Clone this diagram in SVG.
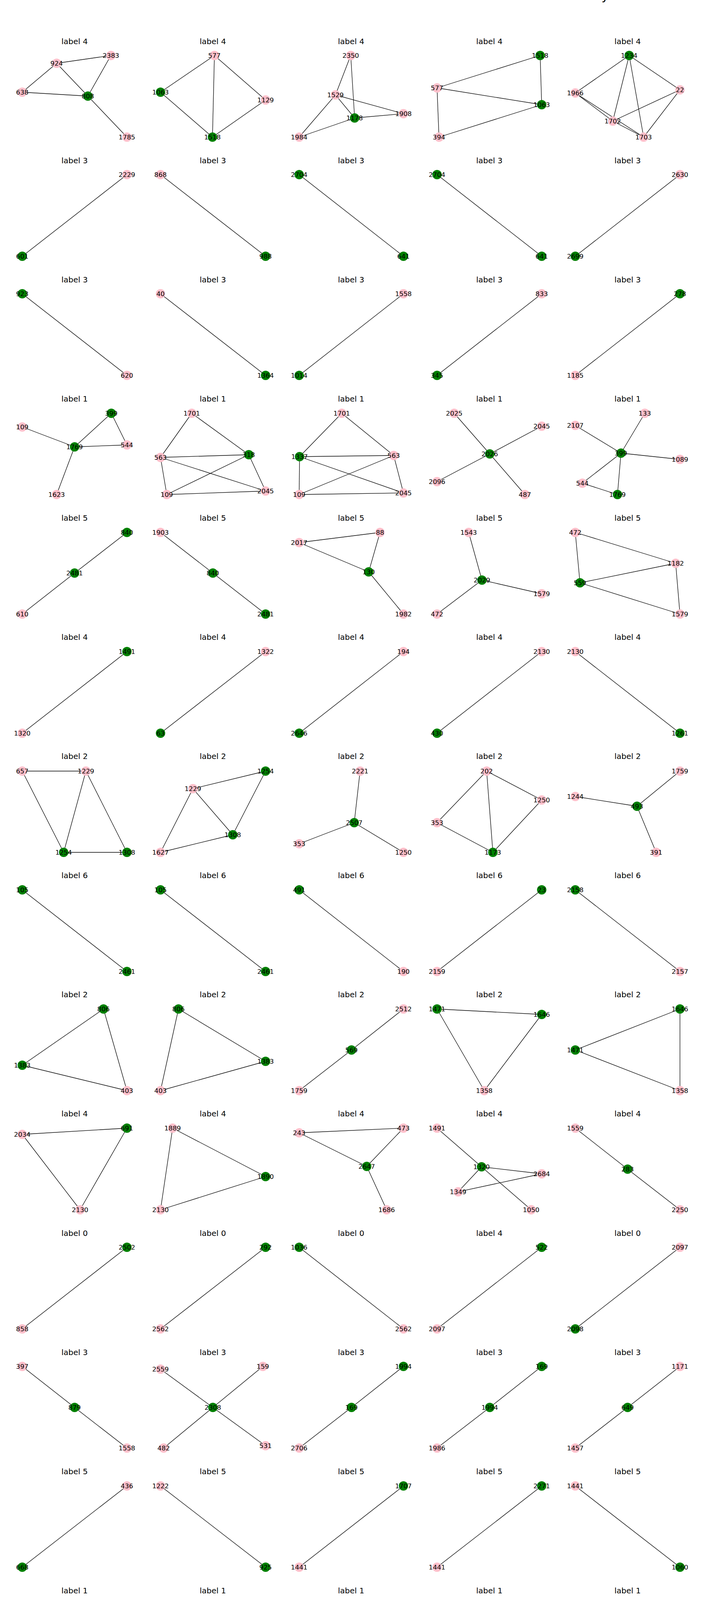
<svg xmlns="http://www.w3.org/2000/svg" width="1800" height="6200" viewBox="0 0 1800 6200">
<style>
text{font-family:"DejaVu Sans","Liberation Sans",sans-serif;fill:#000}
.n text{font-size:16.7px;text-anchor:middle;dominant-baseline:central}
.ttl{font-size:20px;text-anchor:middle}
.sup{font-size:32px}
.p{fill:#ffc0cb}
.g{fill:#008000}
#connectors line{stroke:#000;stroke-width:1.3}
</style>
<rect width="1800" height="6200" fill="#fff"/>
<text class="sup" x="1540" y="-1">y</text>
<g id="titles">
<text class="ttl" x="191" y="112.5">label 4</text><text class="ttl" x="545" y="112.5">label 4</text><text class="ttl" x="899" y="112.5">label 4</text><text class="ttl" x="1253" y="112.5">label 4</text><text class="ttl" x="1607" y="112.5">label 4</text>
<text class="ttl" x="191" y="417.6">label 3</text><text class="ttl" x="545" y="417.6">label 3</text><text class="ttl" x="899" y="417.6">label 3</text><text class="ttl" x="1253" y="417.6">label 3</text><text class="ttl" x="1607" y="417.6">label 3</text>
<text class="ttl" x="191" y="722.7">label 3</text><text class="ttl" x="545" y="722.7">label 3</text><text class="ttl" x="899" y="722.7">label 3</text><text class="ttl" x="1253" y="722.7">label 3</text><text class="ttl" x="1607" y="722.7">label 3</text>
<text class="ttl" x="191" y="1027.8">label 1</text><text class="ttl" x="545" y="1027.8">label 1</text><text class="ttl" x="899" y="1027.8">label 1</text><text class="ttl" x="1253" y="1027.8">label 1</text><text class="ttl" x="1607" y="1027.8">label 1</text>
<text class="ttl" x="191" y="1332.9">label 5</text><text class="ttl" x="545" y="1332.9">label 5</text><text class="ttl" x="899" y="1332.9">label 5</text><text class="ttl" x="1253" y="1332.9">label 5</text><text class="ttl" x="1607" y="1332.9">label 5</text>
<text class="ttl" x="191" y="1638">label 4</text><text class="ttl" x="545" y="1638">label 4</text><text class="ttl" x="899" y="1638">label 4</text><text class="ttl" x="1253" y="1638">label 4</text><text class="ttl" x="1607" y="1638">label 4</text>
<text class="ttl" x="191" y="1943.1">label 2</text><text class="ttl" x="545" y="1943.1">label 2</text><text class="ttl" x="899" y="1943.1">label 2</text><text class="ttl" x="1253" y="1943.1">label 2</text><text class="ttl" x="1607" y="1943.1">label 2</text>
<text class="ttl" x="191" y="2248.2">label 6</text><text class="ttl" x="545" y="2248.2">label 6</text><text class="ttl" x="899" y="2248.2">label 6</text><text class="ttl" x="1253" y="2248.2">label 6</text><text class="ttl" x="1607" y="2248.2">label 6</text>
<text class="ttl" x="191" y="2553.3">label 2</text><text class="ttl" x="545" y="2553.3">label 2</text><text class="ttl" x="899" y="2553.3">label 2</text><text class="ttl" x="1253" y="2553.3">label 2</text><text class="ttl" x="1607" y="2553.3">label 2</text>
<text class="ttl" x="191" y="2858.4">label 4</text><text class="ttl" x="545" y="2858.4">label 4</text><text class="ttl" x="899" y="2858.4">label 4</text><text class="ttl" x="1253" y="2858.4">label 4</text><text class="ttl" x="1607" y="2858.4">label 4</text>
<text class="ttl" x="191" y="3163.5">label 0</text><text class="ttl" x="545" y="3163.5">label 0</text><text class="ttl" x="899" y="3163.5">label 0</text><text class="ttl" x="1253" y="3163.5">label 4</text><text class="ttl" x="1607" y="3163.5">label 0</text>
<text class="ttl" x="191" y="3468.6">label 3</text><text class="ttl" x="545" y="3468.6">label 3</text><text class="ttl" x="899" y="3468.6">label 3</text><text class="ttl" x="1253" y="3468.6">label 3</text><text class="ttl" x="1607" y="3468.6">label 3</text>
<text class="ttl" x="191" y="3773.7">label 5</text><text class="ttl" x="545" y="3773.7">label 5</text><text class="ttl" x="899" y="3773.7">label 5</text><text class="ttl" x="1253" y="3773.7">label 5</text><text class="ttl" x="1607" y="3773.7">label 5</text>
<text class="ttl" x="191" y="4078.8">label 1</text><text class="ttl" x="545" y="4078.8">label 1</text><text class="ttl" x="899" y="4078.8">label 1</text><text class="ttl" x="1253" y="4078.8">label 1</text><text class="ttl" x="1607" y="4078.8">label 1</text>
<text class="ttl" x="191" y="4383.9">label 4</text><text class="ttl" x="545" y="4383.9">label 4</text><text class="ttl" x="899" y="4383.9">label 4</text><text class="ttl" x="1253" y="4383.9">label 4</text><text class="ttl" x="1607" y="4383.9">label 4</text>
<text class="ttl" x="191" y="4689">label 0</text><text class="ttl" x="545" y="4689">label 0</text><text class="ttl" x="899" y="4689">label 0</text><text class="ttl" x="1253" y="4689">label 0</text><text class="ttl" x="1607" y="4689">label 0</text>
<text class="ttl" x="191" y="4994.1">label 3</text><text class="ttl" x="545" y="4994.1">label 3</text><text class="ttl" x="899" y="4994.1">label 3</text><text class="ttl" x="1253" y="4994.1">label 3</text><text class="ttl" x="1607" y="4994.1">label 3</text>
<text class="ttl" x="191" y="5299.2">label 6</text><text class="ttl" x="545" y="5299.2">label 6</text><text class="ttl" x="899" y="5299.2">label 6</text><text class="ttl" x="1253" y="5299.2">label 6</text><text class="ttl" x="1607" y="5299.2">label 6</text>
<text class="ttl" x="191" y="5604.3">label 2</text><text class="ttl" x="545" y="5604.3">label 2</text><text class="ttl" x="899" y="5604.3">label 2</text><text class="ttl" x="1253" y="5604.3">label 2</text><text class="ttl" x="1607" y="5604.3">label 2</text>
<text class="ttl" x="191" y="5909.4">label 3</text><text class="ttl" x="545" y="5909.4">label 3</text><text class="ttl" x="899" y="5909.4">label 3</text><text class="ttl" x="1253" y="5909.4">label 3</text><text class="ttl" x="1607" y="5909.4">label 3</text>
</g>
<g id="connectors">
<line x1="145" y1="162" x2="284" y2="142"/><line x1="145" y1="162" x2="57" y2="236"/><line x1="145" y1="162" x2="225" y2="246"/><line x1="284" y1="142" x2="225" y2="246"/><line x1="57" y1="236" x2="225" y2="246"/><line x1="225" y1="246" x2="325" y2="351"/>
<line x1="549" y1="142" x2="411" y2="236"/><line x1="549" y1="142" x2="544" y2="351"/><line x1="549" y1="142" x2="680" y2="256"/><line x1="411" y1="236" x2="544" y2="351"/><line x1="680" y1="256" x2="544" y2="351"/>
<line x1="898" y1="142" x2="859" y2="243"/><line x1="898" y1="142" x2="908" y2="302"/><line x1="859" y1="243" x2="1033" y2="291"/><line x1="859" y1="243" x2="908" y2="302"/><line x1="859" y1="243" x2="766" y2="351"/><line x1="908" y1="302" x2="1033" y2="291"/><line x1="908" y1="302" x2="766" y2="351"/>
<line x1="1119" y1="225" x2="1383" y2="142"/><line x1="1383" y1="142" x2="1387" y2="268"/><line x1="1119" y1="225" x2="1387" y2="268"/><line x1="1119" y1="225" x2="1124" y2="351"/><line x1="1124" y1="351" x2="1387" y2="268"/>
<line x1="1611" y1="142" x2="1473" y2="238"/><line x1="1611" y1="142" x2="1741" y2="230"/><line x1="1611" y1="142" x2="1569" y2="310"/><line x1="1611" y1="142" x2="1648" y2="351"/><line x1="1741" y1="230" x2="1569" y2="310"/><line x1="1741" y1="230" x2="1648" y2="351"/><line x1="1473" y1="238" x2="1569" y2="310"/><line x1="1473" y1="238" x2="1648" y2="351"/><line x1="1569" y1="310" x2="1648" y2="351"/>
<line x1="325" y1="447" x2="57" y2="656"/><line x1="411" y1="447" x2="680" y2="656"/><line x1="766" y1="447" x2="1033" y2="656"/><line x1="1119" y1="447" x2="1387" y2="656"/><line x1="1741" y1="447" x2="1473" y2="656"/>
<line x1="57" y1="752" x2="325" y2="961"/><line x1="411" y1="752" x2="680" y2="961"/><line x1="1033" y1="752" x2="766" y2="961"/><line x1="1387" y1="752" x2="1119" y2="961"/><line x1="1741" y1="752" x2="1473" y2="961"/>
<line x1="285" y1="1058" x2="191" y2="1144"/><line x1="285" y1="1058" x2="325" y2="1139"/><line x1="57" y1="1093" x2="191" y2="1144"/><line x1="191" y1="1144" x2="325" y2="1139"/><line x1="191" y1="1144" x2="145" y2="1266"/>
<line x1="491" y1="1058" x2="411" y2="1171"/><line x1="491" y1="1058" x2="637" y2="1164"/><line x1="411" y1="1171" x2="637" y2="1164"/><line x1="411" y1="1171" x2="680" y2="1257"/><line x1="411" y1="1171" x2="427" y2="1266"/><line x1="637" y1="1164" x2="427" y2="1266"/><line x1="637" y1="1164" x2="680" y2="1257"/><line x1="427" y1="1266" x2="680" y2="1257"/>
<line x1="875" y1="1058" x2="767" y2="1169"/><line x1="875" y1="1058" x2="1008" y2="1166"/><line x1="767" y1="1169" x2="1008" y2="1166"/><line x1="767" y1="1169" x2="1033" y2="1262"/><line x1="767" y1="1169" x2="766" y2="1266"/><line x1="1008" y1="1166" x2="766" y2="1266"/><line x1="1008" y1="1166" x2="1033" y2="1262"/><line x1="766" y1="1266" x2="1033" y2="1262"/>
<line x1="1163" y1="1058" x2="1254" y2="1162"/><line x1="1387" y1="1091" x2="1254" y2="1162"/><line x1="1254" y1="1162" x2="1119" y2="1233"/><line x1="1254" y1="1162" x2="1344" y2="1266"/>
<line x1="1651" y1="1058" x2="1590" y2="1160"/><line x1="1473" y1="1089" x2="1590" y2="1160"/><line x1="1590" y1="1160" x2="1741" y2="1176"/><line x1="1590" y1="1160" x2="1491" y2="1237"/><line x1="1590" y1="1160" x2="1581" y2="1266"/><line x1="1491" y1="1237" x2="1581" y2="1266"/>
<line x1="325" y1="1363" x2="191" y2="1467"/><line x1="191" y1="1467" x2="57" y2="1572"/>
<line x1="411" y1="1363" x2="545" y2="1467"/><line x1="545" y1="1467" x2="680" y2="1572"/>
<line x1="973" y1="1363" x2="766" y2="1389"/><line x1="973" y1="1363" x2="944" y2="1464"/><line x1="766" y1="1389" x2="944" y2="1464"/><line x1="944" y1="1464" x2="1033" y2="1572"/>
<line x1="1200" y1="1363" x2="1234" y2="1485"/><line x1="1234" y1="1485" x2="1387" y2="1520"/><line x1="1234" y1="1485" x2="1119" y2="1572"/>
<line x1="1473" y1="1363" x2="1730" y2="1442"/><line x1="1473" y1="1363" x2="1485" y2="1492"/><line x1="1730" y1="1442" x2="1485" y2="1492"/><line x1="1730" y1="1442" x2="1741" y2="1572"/><line x1="1485" y1="1492" x2="1741" y2="1572"/>
<line x1="325" y1="1668" x2="57" y2="1877"/><line x1="680" y1="1668" x2="411" y2="1877"/><line x1="1033" y1="1668" x2="766" y2="1877"/><line x1="1387" y1="1668" x2="1119" y2="1877"/><line x1="1473" y1="1668" x2="1741" y2="1877"/>
<line x1="57" y1="1974" x2="220" y2="1974"/><line x1="57" y1="1974" x2="163" y2="2182"/><line x1="220" y1="1974" x2="163" y2="2182"/><line x1="220" y1="1974" x2="325" y2="2182"/><line x1="163" y1="2182" x2="325" y2="2182"/>
<line x1="680" y1="1974" x2="494" y2="2019"/><line x1="680" y1="1974" x2="596" y2="2137"/><line x1="494" y1="2019" x2="411" y2="2182"/><line x1="494" y1="2019" x2="596" y2="2137"/><line x1="411" y1="2182" x2="596" y2="2137"/>
<line x1="922" y1="1974" x2="907" y2="2106"/><line x1="907" y1="2106" x2="766" y2="2160"/><line x1="907" y1="2106" x2="1033" y2="2182"/>
<line x1="1246" y1="1974" x2="1387" y2="2048"/><line x1="1246" y1="1974" x2="1119" y2="2106"/><line x1="1246" y1="1974" x2="1262" y2="2182"/><line x1="1387" y1="2048" x2="1262" y2="2182"/><line x1="1119" y1="2106" x2="1262" y2="2182"/>
<line x1="1741" y1="1974" x2="1631" y2="2064"/><line x1="1473" y1="2039" x2="1631" y2="2064"/><line x1="1631" y1="2064" x2="1680" y2="2182"/>
<line x1="57" y1="2278" x2="325" y2="2487"/><line x1="411" y1="2278" x2="680" y2="2487"/><line x1="766" y1="2278" x2="1033" y2="2487"/><line x1="1387" y1="2278" x2="1119" y2="2487"/><line x1="1473" y1="2278" x2="1741" y2="2487"/>
<line x1="265" y1="2583" x2="57" y2="2727"/><line x1="265" y1="2583" x2="325" y2="2792"/><line x1="57" y1="2727" x2="325" y2="2792"/>
<line x1="457" y1="2583" x2="680" y2="2717"/><line x1="457" y1="2583" x2="411" y2="2792"/><line x1="680" y1="2717" x2="411" y2="2792"/>
<line x1="1033" y1="2583" x2="900" y2="2688"/><line x1="900" y1="2688" x2="766" y2="2792"/>
<line x1="1119" y1="2583" x2="1387" y2="2597"/><line x1="1119" y1="2583" x2="1240" y2="2792"/><line x1="1387" y1="2597" x2="1240" y2="2792"/>
<line x1="1741" y1="2583" x2="1473" y2="2688"/><line x1="1741" y1="2583" x2="1741" y2="2792"/><line x1="1473" y1="2688" x2="1741" y2="2792"/>
<line x1="325" y1="2888" x2="57" y2="2904"/><line x1="57" y1="2904" x2="205" y2="3097"/><line x1="325" y1="2888" x2="205" y2="3097"/>
<line x1="442" y1="2888" x2="680" y2="3012"/><line x1="442" y1="2888" x2="411" y2="3097"/><line x1="680" y1="3012" x2="411" y2="3097"/>
<line x1="1033" y1="2888" x2="766" y2="2900"/><line x1="1033" y1="2888" x2="939" y2="2986"/><line x1="766" y1="2900" x2="939" y2="2986"/><line x1="939" y1="2986" x2="990" y2="3097"/>
<line x1="1119" y1="2888" x2="1233" y2="2987"/><line x1="1233" y1="2987" x2="1387" y2="3005"/><line x1="1233" y1="2987" x2="1173" y2="3051"/><line x1="1233" y1="2987" x2="1360" y2="3097"/><line x1="1173" y1="3051" x2="1387" y2="3005"/>
<line x1="1473" y1="2888" x2="1607" y2="2993"/><line x1="1607" y1="2993" x2="1741" y2="3097"/>
<line x1="325" y1="3193" x2="57" y2="3402"/><line x1="680" y1="3193" x2="411" y2="3402"/><line x1="766" y1="3193" x2="1033" y2="3402"/><line x1="1387" y1="3193" x2="1119" y2="3402"/><line x1="1741" y1="3193" x2="1473" y2="3402"/>
<line x1="57" y1="3498" x2="191" y2="3603"/><line x1="191" y1="3603" x2="325" y2="3707"/>
<line x1="673" y1="3498" x2="545" y2="3603"/><line x1="411" y1="3505" x2="545" y2="3603"/><line x1="545" y1="3603" x2="680" y2="3701"/><line x1="545" y1="3603" x2="419" y2="3707"/>
<line x1="1033" y1="3498" x2="900" y2="3603"/><line x1="900" y1="3603" x2="766" y2="3707"/>
<line x1="1387" y1="3498" x2="1254" y2="3603"/><line x1="1254" y1="3603" x2="1119" y2="3707"/>
<line x1="1741" y1="3498" x2="1607" y2="3603"/><line x1="1607" y1="3603" x2="1473" y2="3707"/>
<line x1="325" y1="3804" x2="57" y2="4012"/><line x1="411" y1="3804" x2="680" y2="4012"/><line x1="1033" y1="3804" x2="766" y2="4012"/><line x1="1387" y1="3804" x2="1119" y2="4012"/><line x1="1473" y1="3804" x2="1741" y2="4012"/>
<line x1="57" y1="4109" x2="325" y2="4317"/><line x1="680" y1="4109" x2="411" y2="4317"/><line x1="766" y1="4109" x2="1033" y2="4317"/><line x1="1387" y1="4109" x2="1119" y2="4317"/><line x1="1473" y1="4109" x2="1741" y2="4317"/>
<line x1="57" y1="4414" x2="325" y2="4622"/><line x1="411" y1="4414" x2="680" y2="4622"/><line x1="1033" y1="4414" x2="766" y2="4622"/><line x1="1387" y1="4414" x2="1119" y2="4622"/>
<line x1="1741" y1="4414" x2="1607" y2="4519"/><line x1="1607" y1="4519" x2="1473" y2="4622"/>
<line x1="118" y1="4719" x2="168" y2="4836"/><line x1="168" y1="4836" x2="325" y2="4863"/><line x1="168" y1="4836" x2="57" y2="4927"/>
<line x1="680" y1="4719" x2="545" y2="4823"/><line x1="545" y1="4823" x2="411" y2="4927"/>
<line x1="1033" y1="4719" x2="766" y2="4742"/><line x1="766" y1="4742" x2="921" y2="4927"/><line x1="1033" y1="4719" x2="921" y2="4927"/>
<line x1="1119" y1="4719" x2="1387" y2="4729"/><line x1="1119" y1="4719" x2="1217" y2="4816"/><line x1="1387" y1="4729" x2="1217" y2="4816"/><line x1="1217" y1="4816" x2="1171" y2="4927"/>
<line x1="1741" y1="4719" x2="1473" y2="4797"/><line x1="1741" y1="4719" x2="1700" y2="4927"/><line x1="1473" y1="4797" x2="1700" y2="4927"/>
<line x1="57" y1="5024" x2="325" y2="5232"/><line x1="411" y1="5024" x2="680" y2="5232"/><line x1="1033" y1="5024" x2="766" y2="5232"/><line x1="1119" y1="5024" x2="1387" y2="5232"/><line x1="1741" y1="5024" x2="1473" y2="5232"/>
<line x1="161" y1="5329" x2="180" y2="5458"/><line x1="180" y1="5458" x2="325" y2="5508"/><line x1="180" y1="5458" x2="57" y2="5538"/>
<line x1="411" y1="5329" x2="511" y2="5428"/><line x1="511" y1="5428" x2="680" y2="5416"/><line x1="511" y1="5428" x2="441" y2="5538"/>
<line x1="1029" y1="5329" x2="912" y2="5443"/><line x1="1029" y1="5329" x2="1033" y2="5538"/><line x1="766" y1="5455" x2="912" y2="5443"/><line x1="912" y1="5443" x2="1033" y2="5538"/>
<line x1="1387" y1="5329" x2="1119" y2="5363"/><line x1="1119" y1="5363" x2="1288" y2="5538"/><line x1="1387" y1="5329" x2="1288" y2="5538"/>
<line x1="1581" y1="5329" x2="1741" y2="5511"/><line x1="1581" y1="5329" x2="1473" y2="5538"/><line x1="1473" y1="5538" x2="1741" y2="5511"/>
<line x1="57" y1="5634" x2="325" y2="5843"/><line x1="680" y1="5634" x2="411" y2="5843"/><line x1="766" y1="5634" x2="1033" y2="5843"/><line x1="1119" y1="5634" x2="1387" y2="5843"/><line x1="1473" y1="5634" x2="1741" y2="5843"/>
<line x1="57" y1="5960" x2="199" y2="6016"/><line x1="325" y1="5939" x2="199" y2="6016"/><line x1="199" y1="6016" x2="212" y2="6148"/>
<line x1="411" y1="5939" x2="528" y2="6036"/><line x1="528" y1="6036" x2="680" y2="6085"/><line x1="528" y1="6036" x2="574" y2="6148"/><line x1="680" y1="6085" x2="574" y2="6148"/>
<line x1="878" y1="5939" x2="766" y2="6047"/><line x1="878" y1="5939" x2="1033" y2="6041"/><line x1="766" y1="6047" x2="1033" y2="6041"/><line x1="766" y1="6047" x2="921" y2="6148"/><line x1="1033" y1="6041" x2="921" y2="6148"/>
<line x1="1321" y1="5939" x2="1263" y2="6036"/><line x1="1321" y1="5939" x2="1387" y2="5997"/><line x1="1387" y1="5997" x2="1263" y2="6036"/><line x1="1119" y1="6024" x2="1263" y2="6036"/><line x1="1263" y1="6036" x2="1263" y2="6148"/>
<line x1="1544" y1="5939" x2="1473" y2="5993"/><line x1="1544" y1="5939" x2="1596" y2="6036"/><line x1="1473" y1="5993" x2="1596" y2="6036"/><line x1="1596" y1="6036" x2="1741" y2="6032"/><line x1="1596" y1="6036" x2="1589" y2="6148"/>
</g>
<g id="nodes">
<g class="n" id="r0c0-2383"><circle class="p" cx="284" cy="142" r="12"/><text x="284" y="142">2383</text></g>
<g class="n" id="r0c0-924"><circle class="p" cx="145" cy="162" r="12"/><text x="145" y="162">924</text></g>
<g class="n" id="r0c0-638"><circle class="p" cx="57" cy="236" r="12"/><text x="57" y="236">638</text></g>
<g class="n" id="r0c0-808"><circle class="g" cx="225" cy="246" r="12"/><text x="225" y="246">808</text></g>
<g class="n" id="r0c0-1785"><circle class="p" cx="325" cy="351" r="12"/><text x="325" y="351">1785</text></g>
<g class="n" id="r0c1-577"><circle class="p" cx="549" cy="142" r="12"/><text x="549" y="142">577</text></g>
<g class="n" id="r0c1-1063"><circle class="g" cx="411" cy="236" r="12"/><text x="411" y="236">1063</text></g>
<g class="n" id="r0c1-1129"><circle class="p" cx="680" cy="256" r="12"/><text x="680" y="256">1129</text></g>
<g class="n" id="r0c1-1518"><circle class="g" cx="544" cy="351" r="12"/><text x="544" y="351">1518</text></g>
<g class="n" id="r0c2-2350"><circle class="p" cx="898" cy="142" r="12"/><text x="898" y="142">2350</text></g>
<g class="n" id="r0c2-1529"><circle class="p" cx="859" cy="243" r="12"/><text x="859" y="243">1529</text></g>
<g class="n" id="r0c2-1908"><circle class="p" cx="1033" cy="291" r="12"/><text x="1033" y="291">1908</text></g>
<g class="n" id="r0c2-1178"><circle class="g" cx="908" cy="302" r="12"/><text x="908" y="302">1178</text></g>
<g class="n" id="r0c2-1984"><circle class="p" cx="766" cy="351" r="12"/><text x="766" y="351">1984</text></g>
<g class="n" id="r0c3-1518"><circle class="g" cx="1383" cy="142" r="12"/><text x="1383" y="142">1518</text></g>
<g class="n" id="r0c3-577"><circle class="p" cx="1119" cy="225" r="12"/><text x="1119" y="225">577</text></g>
<g class="n" id="r0c3-1063"><circle class="g" cx="1387" cy="268" r="12"/><text x="1387" y="268">1063</text></g>
<g class="n" id="r0c3-394"><circle class="p" cx="1124" cy="351" r="12"/><text x="1124" y="351">394</text></g>
<g class="n" id="r0c4-1234"><circle class="g" cx="1611" cy="142" r="12"/><text x="1611" y="142">1234</text></g>
<g class="n" id="r0c4-22"><circle class="p" cx="1741" cy="230" r="12"/><text x="1741" y="230">22</text></g>
<g class="n" id="r0c4-1966"><circle class="p" cx="1473" cy="238" r="12"/><text x="1473" y="238">1966</text></g>
<g class="n" id="r0c4-1702"><circle class="p" cx="1569" cy="310" r="12"/><text x="1569" y="310">1702</text></g>
<g class="n" id="r0c4-1703"><circle class="p" cx="1648" cy="351" r="12"/><text x="1648" y="351">1703</text></g>
<g class="n" id="r1c0-2229"><circle class="p" cx="325" cy="447" r="12"/><text x="325" y="447">2229</text></g>
<g class="n" id="r1c0-601"><circle class="g" cx="57" cy="656" r="12"/><text x="57" y="656">601</text></g>
<g class="n" id="r1c1-868"><circle class="p" cx="411" cy="447" r="12"/><text x="411" y="447">868</text></g>
<g class="n" id="r1c1-988"><circle class="g" cx="680" cy="656" r="12"/><text x="680" y="656">988</text></g>
<g class="n" id="r1c2-2704"><circle class="g" cx="766" cy="447" r="12"/><text x="766" y="447">2704</text></g>
<g class="n" id="r1c2-641"><circle class="g" cx="1033" cy="656" r="12"/><text x="1033" y="656">641</text></g>
<g class="n" id="r1c3-2704"><circle class="g" cx="1119" cy="447" r="12"/><text x="1119" y="447">2704</text></g>
<g class="n" id="r1c3-641"><circle class="g" cx="1387" cy="656" r="12"/><text x="1387" y="656">641</text></g>
<g class="n" id="r1c4-2630"><circle class="p" cx="1741" cy="447" r="12"/><text x="1741" y="447">2630</text></g>
<g class="n" id="r1c4-2699"><circle class="g" cx="1473" cy="656" r="12"/><text x="1473" y="656">2699</text></g>
<g class="n" id="r2c0-923"><circle class="g" cx="57" cy="752" r="12"/><text x="57" y="752">923</text></g>
<g class="n" id="r2c0-620"><circle class="p" cx="325" cy="961" r="12"/><text x="325" y="961">620</text></g>
<g class="n" id="r2c1-40"><circle class="p" cx="411" cy="752" r="12"/><text x="411" y="752">40</text></g>
<g class="n" id="r2c1-1364"><circle class="g" cx="680" cy="961" r="12"/><text x="680" y="961">1364</text></g>
<g class="n" id="r2c2-1558"><circle class="p" cx="1033" cy="752" r="12"/><text x="1033" y="752">1558</text></g>
<g class="n" id="r2c2-1014"><circle class="g" cx="766" cy="961" r="12"/><text x="766" y="961">1014</text></g>
<g class="n" id="r2c3-833"><circle class="p" cx="1387" cy="752" r="12"/><text x="1387" y="752">833</text></g>
<g class="n" id="r2c3-345"><circle class="g" cx="1119" cy="961" r="12"/><text x="1119" y="961">345</text></g>
<g class="n" id="r2c4-278"><circle class="g" cx="1741" cy="752" r="12"/><text x="1741" y="752">278</text></g>
<g class="n" id="r2c4-1185"><circle class="p" cx="1473" cy="961" r="12"/><text x="1473" y="961">1185</text></g>
<g class="n" id="r3c0-399"><circle class="g" cx="285" cy="1058" r="12"/><text x="285" y="1058">399</text></g>
<g class="n" id="r3c0-109"><circle class="p" cx="57" cy="1093" r="12"/><text x="57" y="1093">109</text></g>
<g class="n" id="r3c0-544"><circle class="p" cx="325" cy="1139" r="12"/><text x="325" y="1139">544</text></g>
<g class="n" id="r3c0-1769"><circle class="g" cx="191" cy="1144" r="12"/><text x="191" y="1144">1769</text></g>
<g class="n" id="r3c0-1623"><circle class="p" cx="145" cy="1266" r="12"/><text x="145" y="1266">1623</text></g>
<g class="n" id="r3c1-1701"><circle class="p" cx="491" cy="1058" r="12"/><text x="491" y="1058">1701</text></g>
<g class="n" id="r3c1-318"><circle class="g" cx="637" cy="1164" r="12"/><text x="637" y="1164">318</text></g>
<g class="n" id="r3c1-563"><circle class="p" cx="411" cy="1171" r="12"/><text x="411" y="1171">563</text></g>
<g class="n" id="r3c1-2045"><circle class="p" cx="680" cy="1257" r="12"/><text x="680" y="1257">2045</text></g>
<g class="n" id="r3c1-109"><circle class="p" cx="427" cy="1266" r="12"/><text x="427" y="1266">109</text></g>
<g class="n" id="r3c2-1701"><circle class="p" cx="875" cy="1058" r="12"/><text x="875" y="1058">1701</text></g>
<g class="n" id="r3c2-1337"><circle class="g" cx="767" cy="1169" r="12"/><text x="767" y="1169">1337</text></g>
<g class="n" id="r3c2-563"><circle class="p" cx="1008" cy="1166" r="12"/><text x="1008" y="1166">563</text></g>
<g class="n" id="r3c2-2045"><circle class="p" cx="1033" cy="1262" r="12"/><text x="1033" y="1262">2045</text></g>
<g class="n" id="r3c2-109"><circle class="p" cx="766" cy="1266" r="12"/><text x="766" y="1266">109</text></g>
<g class="n" id="r3c3-2025"><circle class="p" cx="1163" cy="1058" r="12"/><text x="1163" y="1058">2025</text></g>
<g class="n" id="r3c3-2045"><circle class="p" cx="1387" cy="1091" r="12"/><text x="1387" y="1091">2045</text></g>
<g class="n" id="r3c3-2026"><circle class="g" cx="1254" cy="1162" r="12"/><text x="1254" y="1162">2026</text></g>
<g class="n" id="r3c3-2096"><circle class="p" cx="1119" cy="1233" r="12"/><text x="1119" y="1233">2096</text></g>
<g class="n" id="r3c3-487"><circle class="p" cx="1344" cy="1266" r="12"/><text x="1344" y="1266">487</text></g>
<g class="n" id="r3c4-133"><circle class="p" cx="1651" cy="1058" r="12"/><text x="1651" y="1058">133</text></g>
<g class="n" id="r3c4-2107"><circle class="p" cx="1473" cy="1089" r="12"/><text x="1473" y="1089">2107</text></g>
<g class="n" id="r3c4-399"><circle class="g" cx="1590" cy="1160" r="12"/><text x="1590" y="1160">399</text></g>
<g class="n" id="r3c4-1089"><circle class="p" cx="1741" cy="1176" r="12"/><text x="1741" y="1176">1089</text></g>
<g class="n" id="r3c4-544"><circle class="p" cx="1491" cy="1237" r="12"/><text x="1491" y="1237">544</text></g>
<g class="n" id="r3c4-1769"><circle class="g" cx="1581" cy="1266" r="12"/><text x="1581" y="1266">1769</text></g>
<g class="n" id="r4c0-840"><circle class="g" cx="325" cy="1363" r="12"/><text x="325" y="1363">840</text></g>
<g class="n" id="r4c0-2481"><circle class="g" cx="191" cy="1467" r="12"/><text x="191" y="1467">2481</text></g>
<g class="n" id="r4c0-610"><circle class="p" cx="57" cy="1572" r="12"/><text x="57" y="1572">610</text></g>
<g class="n" id="r4c1-1903"><circle class="p" cx="411" cy="1363" r="12"/><text x="411" y="1363">1903</text></g>
<g class="n" id="r4c1-840"><circle class="g" cx="545" cy="1467" r="12"/><text x="545" y="1467">840</text></g>
<g class="n" id="r4c1-2481"><circle class="g" cx="680" cy="1572" r="12"/><text x="680" y="1572">2481</text></g>
<g class="n" id="r4c2-88"><circle class="p" cx="973" cy="1363" r="12"/><text x="973" y="1363">88</text></g>
<g class="n" id="r4c2-2017"><circle class="p" cx="766" cy="1389" r="12"/><text x="766" y="1389">2017</text></g>
<g class="n" id="r4c2-130"><circle class="g" cx="944" cy="1464" r="12"/><text x="944" y="1464">130</text></g>
<g class="n" id="r4c2-1982"><circle class="p" cx="1033" cy="1572" r="12"/><text x="1033" y="1572">1982</text></g>
<g class="n" id="r4c3-1543"><circle class="p" cx="1200" cy="1363" r="12"/><text x="1200" y="1363">1543</text></g>
<g class="n" id="r4c3-2029"><circle class="g" cx="1234" cy="1485" r="12"/><text x="1234" y="1485">2029</text></g>
<g class="n" id="r4c3-1579"><circle class="p" cx="1387" cy="1520" r="12"/><text x="1387" y="1520">1579</text></g>
<g class="n" id="r4c3-472"><circle class="p" cx="1119" cy="1572" r="12"/><text x="1119" y="1572">472</text></g>
<g class="n" id="r4c4-472"><circle class="p" cx="1473" cy="1363" r="12"/><text x="1473" y="1363">472</text></g>
<g class="n" id="r4c4-1182"><circle class="p" cx="1730" cy="1442" r="12"/><text x="1730" y="1442">1182</text></g>
<g class="n" id="r4c4-559"><circle class="g" cx="1485" cy="1492" r="12"/><text x="1485" y="1492">559</text></g>
<g class="n" id="r4c4-1579"><circle class="p" cx="1741" cy="1572" r="12"/><text x="1741" y="1572">1579</text></g>
<g class="n" id="r5c0-1491"><circle class="g" cx="325" cy="1668" r="12"/><text x="325" y="1668">1491</text></g>
<g class="n" id="r5c0-1320"><circle class="p" cx="57" cy="1877" r="12"/><text x="57" y="1877">1320</text></g>
<g class="n" id="r5c1-1322"><circle class="p" cx="680" cy="1668" r="12"/><text x="680" y="1668">1322</text></g>
<g class="n" id="r5c1-63"><circle class="g" cx="411" cy="1877" r="12"/><text x="411" y="1877">63</text></g>
<g class="n" id="r5c2-194"><circle class="p" cx="1033" cy="1668" r="12"/><text x="1033" y="1668">194</text></g>
<g class="n" id="r5c2-2646"><circle class="g" cx="766" cy="1877" r="12"/><text x="766" y="1877">2646</text></g>
<g class="n" id="r5c3-2130"><circle class="p" cx="1387" cy="1668" r="12"/><text x="1387" y="1668">2130</text></g>
<g class="n" id="r5c3-430"><circle class="g" cx="1119" cy="1877" r="12"/><text x="1119" y="1877">430</text></g>
<g class="n" id="r5c4-2130"><circle class="p" cx="1473" cy="1668" r="12"/><text x="1473" y="1668">2130</text></g>
<g class="n" id="r5c4-1261"><circle class="g" cx="1741" cy="1877" r="12"/><text x="1741" y="1877">1261</text></g>
<g class="n" id="r6c0-657"><circle class="p" cx="57" cy="1974" r="12"/><text x="57" y="1974">657</text></g>
<g class="n" id="r6c0-1229"><circle class="p" cx="220" cy="1974" r="12"/><text x="220" y="1974">1229</text></g>
<g class="n" id="r6c0-1254"><circle class="g" cx="163" cy="2182" r="12"/><text x="163" y="2182">1254</text></g>
<g class="n" id="r6c0-1308"><circle class="g" cx="325" cy="2182" r="12"/><text x="325" y="2182">1308</text></g>
<g class="n" id="r6c1-1254"><circle class="g" cx="680" cy="1974" r="12"/><text x="680" y="1974">1254</text></g>
<g class="n" id="r6c1-1229"><circle class="p" cx="494" cy="2019" r="12"/><text x="494" y="2019">1229</text></g>
<g class="n" id="r6c1-1308"><circle class="g" cx="596" cy="2137" r="12"/><text x="596" y="2137">1308</text></g>
<g class="n" id="r6c1-1627"><circle class="p" cx="411" cy="2182" r="12"/><text x="411" y="2182">1627</text></g>
<g class="n" id="r6c2-2221"><circle class="p" cx="922" cy="1974" r="12"/><text x="922" y="1974">2221</text></g>
<g class="n" id="r6c2-2507"><circle class="g" cx="907" cy="2106" r="12"/><text x="907" y="2106">2507</text></g>
<g class="n" id="r6c2-353"><circle class="p" cx="766" cy="2160" r="12"/><text x="766" y="2160">353</text></g>
<g class="n" id="r6c2-1250"><circle class="p" cx="1033" cy="2182" r="12"/><text x="1033" y="2182">1250</text></g>
<g class="n" id="r6c3-202"><circle class="p" cx="1246" cy="1974" r="12"/><text x="1246" y="1974">202</text></g>
<g class="n" id="r6c3-1250"><circle class="p" cx="1387" cy="2048" r="12"/><text x="1387" y="2048">1250</text></g>
<g class="n" id="r6c3-353"><circle class="p" cx="1119" cy="2106" r="12"/><text x="1119" y="2106">353</text></g>
<g class="n" id="r6c3-1173"><circle class="g" cx="1262" cy="2182" r="12"/><text x="1262" y="2182">1173</text></g>
<g class="n" id="r6c4-1759"><circle class="p" cx="1741" cy="1974" r="12"/><text x="1741" y="1974">1759</text></g>
<g class="n" id="r6c4-1244"><circle class="p" cx="1473" cy="2039" r="12"/><text x="1473" y="2039">1244</text></g>
<g class="n" id="r6c4-493"><circle class="g" cx="1631" cy="2064" r="12"/><text x="1631" y="2064">493</text></g>
<g class="n" id="r6c4-391"><circle class="p" cx="1680" cy="2182" r="12"/><text x="1680" y="2182">391</text></g>
<g class="n" id="r7c0-105"><circle class="g" cx="57" cy="2278" r="12"/><text x="57" y="2278">105</text></g>
<g class="n" id="r7c0-2461"><circle class="g" cx="325" cy="2487" r="12"/><text x="325" y="2487">2461</text></g>
<g class="n" id="r7c1-105"><circle class="g" cx="411" cy="2278" r="12"/><text x="411" y="2278">105</text></g>
<g class="n" id="r7c1-2461"><circle class="g" cx="680" cy="2487" r="12"/><text x="680" y="2487">2461</text></g>
<g class="n" id="r7c2-491"><circle class="g" cx="766" cy="2278" r="12"/><text x="766" y="2278">491</text></g>
<g class="n" id="r7c2-190"><circle class="p" cx="1033" cy="2487" r="12"/><text x="1033" y="2487">190</text></g>
<g class="n" id="r7c3-23"><circle class="g" cx="1387" cy="2278" r="12"/><text x="1387" y="2278">23</text></g>
<g class="n" id="r7c3-2159"><circle class="p" cx="1119" cy="2487" r="12"/><text x="1119" y="2487">2159</text></g>
<g class="n" id="r7c4-2158"><circle class="g" cx="1473" cy="2278" r="12"/><text x="1473" y="2278">2158</text></g>
<g class="n" id="r7c4-2157"><circle class="p" cx="1741" cy="2487" r="12"/><text x="1741" y="2487">2157</text></g>
<g class="n" id="r8c0-806"><circle class="g" cx="265" cy="2583" r="12"/><text x="265" y="2583">806</text></g>
<g class="n" id="r8c0-1383"><circle class="g" cx="57" cy="2727" r="12"/><text x="57" y="2727">1383</text></g>
<g class="n" id="r8c0-403"><circle class="p" cx="325" cy="2792" r="12"/><text x="325" y="2792">403</text></g>
<g class="n" id="r8c1-806"><circle class="g" cx="457" cy="2583" r="12"/><text x="457" y="2583">806</text></g>
<g class="n" id="r8c1-1383"><circle class="g" cx="680" cy="2717" r="12"/><text x="680" y="2717">1383</text></g>
<g class="n" id="r8c1-403"><circle class="p" cx="411" cy="2792" r="12"/><text x="411" y="2792">403</text></g>
<g class="n" id="r8c2-2512"><circle class="p" cx="1033" cy="2583" r="12"/><text x="1033" y="2583">2512</text></g>
<g class="n" id="r8c2-569"><circle class="g" cx="900" cy="2688" r="12"/><text x="900" y="2688">569</text></g>
<g class="n" id="r8c2-1759"><circle class="p" cx="766" cy="2792" r="12"/><text x="766" y="2792">1759</text></g>
<g class="n" id="r8c3-1471"><circle class="g" cx="1119" cy="2583" r="12"/><text x="1119" y="2583">1471</text></g>
<g class="n" id="r8c3-1646"><circle class="g" cx="1387" cy="2597" r="12"/><text x="1387" y="2597">1646</text></g>
<g class="n" id="r8c3-1358"><circle class="p" cx="1240" cy="2792" r="12"/><text x="1240" y="2792">1358</text></g>
<g class="n" id="r8c4-1646"><circle class="g" cx="1741" cy="2583" r="12"/><text x="1741" y="2583">1646</text></g>
<g class="n" id="r8c4-1471"><circle class="g" cx="1473" cy="2688" r="12"/><text x="1473" y="2688">1471</text></g>
<g class="n" id="r8c4-1358"><circle class="p" cx="1741" cy="2792" r="12"/><text x="1741" y="2792">1358</text></g>
<g class="n" id="r9c0-691"><circle class="g" cx="325" cy="2888" r="12"/><text x="325" y="2888">691</text></g>
<g class="n" id="r9c0-2034"><circle class="p" cx="57" cy="2904" r="12"/><text x="57" y="2904">2034</text></g>
<g class="n" id="r9c0-2130"><circle class="p" cx="205" cy="3097" r="12"/><text x="205" y="3097">2130</text></g>
<g class="n" id="r9c1-1889"><circle class="p" cx="442" cy="2888" r="12"/><text x="442" y="2888">1889</text></g>
<g class="n" id="r9c1-1890"><circle class="g" cx="680" cy="3012" r="12"/><text x="680" y="3012">1890</text></g>
<g class="n" id="r9c1-2130"><circle class="p" cx="411" cy="3097" r="12"/><text x="411" y="3097">2130</text></g>
<g class="n" id="r9c2-473"><circle class="p" cx="1033" cy="2888" r="12"/><text x="1033" y="2888">473</text></g>
<g class="n" id="r9c2-243"><circle class="p" cx="766" cy="2900" r="12"/><text x="766" y="2900">243</text></g>
<g class="n" id="r9c2-2647"><circle class="g" cx="939" cy="2986" r="12"/><text x="939" y="2986">2647</text></g>
<g class="n" id="r9c2-1686"><circle class="p" cx="990" cy="3097" r="12"/><text x="990" y="3097">1686</text></g>
<g class="n" id="r9c3-1491"><circle class="p" cx="1119" cy="2888" r="12"/><text x="1119" y="2888">1491</text></g>
<g class="n" id="r9c3-1320"><circle class="g" cx="1233" cy="2987" r="12"/><text x="1233" y="2987">1320</text></g>
<g class="n" id="r9c3-2684"><circle class="p" cx="1387" cy="3005" r="12"/><text x="1387" y="3005">2684</text></g>
<g class="n" id="r9c3-1349"><circle class="p" cx="1173" cy="3051" r="12"/><text x="1173" y="3051">1349</text></g>
<g class="n" id="r9c3-1050"><circle class="p" cx="1360" cy="3097" r="12"/><text x="1360" y="3097">1050</text></g>
<g class="n" id="r9c4-1559"><circle class="p" cx="1473" cy="2888" r="12"/><text x="1473" y="2888">1559</text></g>
<g class="n" id="r9c4-283"><circle class="g" cx="1607" cy="2993" r="12"/><text x="1607" y="2993">283</text></g>
<g class="n" id="r9c4-2250"><circle class="p" cx="1741" cy="3097" r="12"/><text x="1741" y="3097">2250</text></g>
<g class="n" id="r10c0-2502"><circle class="g" cx="325" cy="3193" r="12"/><text x="325" y="3193">2502</text></g>
<g class="n" id="r10c0-858"><circle class="p" cx="57" cy="3402" r="12"/><text x="57" y="3402">858</text></g>
<g class="n" id="r10c1-292"><circle class="g" cx="680" cy="3193" r="12"/><text x="680" y="3193">292</text></g>
<g class="n" id="r10c1-2562"><circle class="p" cx="411" cy="3402" r="12"/><text x="411" y="3402">2562</text></g>
<g class="n" id="r10c2-1036"><circle class="g" cx="766" cy="3193" r="12"/><text x="766" y="3193">1036</text></g>
<g class="n" id="r10c2-2562"><circle class="p" cx="1033" cy="3402" r="12"/><text x="1033" y="3402">2562</text></g>
<g class="n" id="r10c3-522"><circle class="g" cx="1387" cy="3193" r="12"/><text x="1387" y="3193">522</text></g>
<g class="n" id="r10c3-2097"><circle class="p" cx="1119" cy="3402" r="12"/><text x="1119" y="3402">2097</text></g>
<g class="n" id="r10c4-2097"><circle class="p" cx="1741" cy="3193" r="12"/><text x="1741" y="3193">2097</text></g>
<g class="n" id="r10c4-2098"><circle class="g" cx="1473" cy="3402" r="12"/><text x="1473" y="3402">2098</text></g>
<g class="n" id="r11c0-397"><circle class="p" cx="57" cy="3498" r="12"/><text x="57" y="3498">397</text></g>
<g class="n" id="r11c0-879"><circle class="g" cx="191" cy="3603" r="12"/><text x="191" y="3603">879</text></g>
<g class="n" id="r11c0-1558"><circle class="p" cx="325" cy="3707" r="12"/><text x="325" y="3707">1558</text></g>
<g class="n" id="r11c1-159"><circle class="p" cx="673" cy="3498" r="12"/><text x="673" y="3498">159</text></g>
<g class="n" id="r11c1-2559"><circle class="p" cx="411" cy="3505" r="12"/><text x="411" y="3505">2559</text></g>
<g class="n" id="r11c1-2308"><circle class="g" cx="545" cy="3603" r="12"/><text x="545" y="3603">2308</text></g>
<g class="n" id="r11c1-531"><circle class="p" cx="680" cy="3701" r="12"/><text x="680" y="3701">531</text></g>
<g class="n" id="r11c1-482"><circle class="p" cx="419" cy="3707" r="12"/><text x="419" y="3707">482</text></g>
<g class="n" id="r11c2-1994"><circle class="g" cx="1033" cy="3498" r="12"/><text x="1033" y="3498">1994</text></g>
<g class="n" id="r11c2-169"><circle class="g" cx="900" cy="3603" r="12"/><text x="900" y="3603">169</text></g>
<g class="n" id="r11c2-2706"><circle class="p" cx="766" cy="3707" r="12"/><text x="766" y="3707">2706</text></g>
<g class="n" id="r11c3-169"><circle class="g" cx="1387" cy="3498" r="12"/><text x="1387" y="3498">169</text></g>
<g class="n" id="r11c3-1994"><circle class="g" cx="1254" cy="3603" r="12"/><text x="1254" y="3603">1994</text></g>
<g class="n" id="r11c3-1986"><circle class="p" cx="1119" cy="3707" r="12"/><text x="1119" y="3707">1986</text></g>
<g class="n" id="r11c4-1171"><circle class="p" cx="1741" cy="3498" r="12"/><text x="1741" y="3498">1171</text></g>
<g class="n" id="r11c4-649"><circle class="g" cx="1607" cy="3603" r="12"/><text x="1607" y="3603">649</text></g>
<g class="n" id="r11c4-1457"><circle class="p" cx="1473" cy="3707" r="12"/><text x="1473" y="3707">1457</text></g>
<g class="n" id="r12c0-436"><circle class="p" cx="325" cy="3804" r="12"/><text x="325" y="3804">436</text></g>
<g class="n" id="r12c0-668"><circle class="g" cx="57" cy="4012" r="12"/><text x="57" y="4012">668</text></g>
<g class="n" id="r12c1-1222"><circle class="p" cx="411" cy="3804" r="12"/><text x="411" y="3804">1222</text></g>
<g class="n" id="r12c1-925"><circle class="g" cx="680" cy="4012" r="12"/><text x="680" y="4012">925</text></g>
<g class="n" id="r12c2-1707"><circle class="g" cx="1033" cy="3804" r="12"/><text x="1033" y="3804">1707</text></g>
<g class="n" id="r12c2-1441"><circle class="p" cx="766" cy="4012" r="12"/><text x="766" y="4012">1441</text></g>
<g class="n" id="r12c3-2271"><circle class="g" cx="1387" cy="3804" r="12"/><text x="1387" y="3804">2271</text></g>
<g class="n" id="r12c3-1441"><circle class="p" cx="1119" cy="4012" r="12"/><text x="1119" y="4012">1441</text></g>
<g class="n" id="r12c4-1441"><circle class="p" cx="1473" cy="3804" r="12"/><text x="1473" y="3804">1441</text></g>
<g class="n" id="r12c4-1060"><circle class="g" cx="1741" cy="4012" r="12"/><text x="1741" y="4012">1060</text></g>
<g class="n" id="r13c0-225"><circle class="g" cx="57" cy="4109" r="12"/><text x="57" y="4109">225</text></g>
<g class="n" id="r13c0-2255"><circle class="g" cx="325" cy="4317" r="12"/><text x="325" y="4317">2255</text></g>
<g class="n" id="r13c1-2255"><circle class="g" cx="680" cy="4109" r="12"/><text x="680" y="4109">2255</text></g>
<g class="n" id="r13c1-225"><circle class="g" cx="411" cy="4317" r="12"/><text x="411" y="4317">225</text></g>
<g class="n" id="r13c2-85"><circle class="p" cx="766" cy="4109" r="12"/><text x="766" y="4109">85</text></g>
<g class="n" id="r13c2-2488"><circle class="g" cx="1033" cy="4317" r="12"/><text x="1033" y="4317">2488</text></g>
<g class="n" id="r13c3-685"><circle class="g" cx="1387" cy="4109" r="12"/><text x="1387" y="4109">685</text></g>
<g class="n" id="r13c3-554"><circle class="p" cx="1119" cy="4317" r="12"/><text x="1119" y="4317">554</text></g>
<g class="n" id="r13c4-2598"><circle class="g" cx="1473" cy="4109" r="12"/><text x="1473" y="4109">2598</text></g>
<g class="n" id="r13c4-329"><circle class="p" cx="1741" cy="4317" r="12"/><text x="1741" y="4317">329</text></g>
<g class="n" id="r14c0-2432"><circle class="g" cx="57" cy="4414" r="12"/><text x="57" y="4414">2432</text></g>
<g class="n" id="r14c0-2431"><circle class="g" cx="325" cy="4622" r="12"/><text x="325" y="4622">2431</text></g>
<g class="n" id="r14c1-2431"><circle class="g" cx="411" cy="4414" r="12"/><text x="411" y="4414">2431</text></g>
<g class="n" id="r14c1-2432"><circle class="g" cx="680" cy="4622" r="12"/><text x="680" y="4622">2432</text></g>
<g class="n" id="r14c2-2681"><circle class="p" cx="1033" cy="4414" r="12"/><text x="1033" y="4414">2681</text></g>
<g class="n" id="r14c2-1449"><circle class="g" cx="766" cy="4622" r="12"/><text x="766" y="4622">1449</text></g>
<g class="n" id="r14c3-209"><circle class="g" cx="1387" cy="4414" r="12"/><text x="1387" y="4414">209</text></g>
<g class="n" id="r14c3-2681"><circle class="p" cx="1119" cy="4622" r="12"/><text x="1119" y="4622">2681</text></g>
<g class="n" id="r14c4-1112"><circle class="p" cx="1741" cy="4414" r="12"/><text x="1741" y="4414">1112</text></g>
<g class="n" id="r14c4-954"><circle class="g" cx="1607" cy="4519" r="12"/><text x="1607" y="4519">954</text></g>
<g class="n" id="r14c4-677"><circle class="p" cx="1473" cy="4622" r="12"/><text x="1473" y="4622">677</text></g>
<g class="n" id="r15c0-146"><circle class="p" cx="118" cy="4719" r="12"/><text x="118" y="4719">146</text></g>
<g class="n" id="r15c0-1468"><circle class="g" cx="168" cy="4836" r="12"/><text x="168" y="4836">1468</text></g>
<g class="n" id="r15c0-1275"><circle class="p" cx="325" cy="4863" r="12"/><text x="325" y="4863">1275</text></g>
<g class="n" id="r15c0-1416"><circle class="p" cx="57" cy="4927" r="12"/><text x="57" y="4927">1416</text></g>
<g class="n" id="r15c1-1475"><circle class="p" cx="680" cy="4719" r="12"/><text x="680" y="4719">1475</text></g>
<g class="n" id="r15c1-2469"><circle class="g" cx="545" cy="4823" r="12"/><text x="545" y="4823">2469</text></g>
<g class="n" id="r15c1-365"><circle class="p" cx="411" cy="4927" r="12"/><text x="411" y="4927">365</text></g>
<g class="n" id="r15c2-614"><circle class="p" cx="1033" cy="4719" r="12"/><text x="1033" y="4719">614</text></g>
<g class="n" id="r15c2-2470"><circle class="g" cx="766" cy="4742" r="12"/><text x="766" y="4742">2470</text></g>
<g class="n" id="r15c2-1475"><circle class="p" cx="921" cy="4927" r="12"/><text x="921" y="4927">1475</text></g>
<g class="n" id="r15c3-1475"><circle class="p" cx="1119" cy="4719" r="12"/><text x="1119" y="4719">1475</text></g>
<g class="n" id="r15c3-614"><circle class="p" cx="1387" cy="4729" r="12"/><text x="1387" y="4729">614</text></g>
<g class="n" id="r15c3-888"><circle class="g" cx="1217" cy="4816" r="12"/><text x="1217" y="4816">888</text></g>
<g class="n" id="r15c3-1556"><circle class="p" cx="1171" cy="4927" r="12"/><text x="1171" y="4927">1556</text></g>
<g class="n" id="r15c4-186"><circle class="p" cx="1741" cy="4719" r="12"/><text x="1741" y="4719">186</text></g>
<g class="n" id="r15c4-1536"><circle class="p" cx="1473" cy="4797" r="12"/><text x="1473" y="4797">1536</text></g>
<g class="n" id="r15c4-2702"><circle class="g" cx="1700" cy="4927" r="12"/><text x="1700" y="4927">2702</text></g>
<g class="n" id="r16c0-2005"><circle class="g" cx="57" cy="5024" r="12"/><text x="57" y="5024">2005</text></g>
<g class="n" id="r16c0-1986"><circle class="p" cx="325" cy="5232" r="12"/><text x="325" y="5232">1986</text></g>
<g class="n" id="r16c1-932"><circle class="g" cx="411" cy="5024" r="12"/><text x="411" y="5024">932</text></g>
<g class="n" id="r16c1-662"><circle class="g" cx="680" cy="5232" r="12"/><text x="680" y="5232">662</text></g>
<g class="n" id="r16c2-932"><circle class="g" cx="1033" cy="5024" r="12"/><text x="1033" y="5024">932</text></g>
<g class="n" id="r16c2-662"><circle class="g" cx="766" cy="5232" r="12"/><text x="766" y="5232">662</text></g>
<g class="n" id="r16c3-2572"><circle class="g" cx="1119" cy="5024" r="12"/><text x="1119" y="5024">2572</text></g>
<g class="n" id="r16c3-2570"><circle class="p" cx="1387" cy="5232" r="12"/><text x="1387" y="5232">2570</text></g>
<g class="n" id="r16c4-2635"><circle class="g" cx="1741" cy="5024" r="12"/><text x="1741" y="5024">2635</text></g>
<g class="n" id="r16c4-2634"><circle class="p" cx="1473" cy="5232" r="12"/><text x="1473" y="5232">2634</text></g>
<g class="n" id="r17c0-2164"><circle class="p" cx="161" cy="5329" r="12"/><text x="161" y="5329">2164</text></g>
<g class="n" id="r17c0-87"><circle class="g" cx="180" cy="5458" r="12"/><text x="180" y="5458">87</text></g>
<g class="n" id="r17c0-42"><circle class="p" cx="325" cy="5508" r="12"/><text x="325" y="5508">42</text></g>
<g class="n" id="r17c0-842"><circle class="p" cx="57" cy="5538" r="12"/><text x="57" y="5538">842</text></g>
<g class="n" id="r17c1-1351"><circle class="p" cx="411" cy="5329" r="12"/><text x="411" y="5329">1351</text></g>
<g class="n" id="r17c1-1914"><circle class="p" cx="680" cy="5416" r="12"/><text x="680" y="5416">1914</text></g>
<g class="n" id="r17c1-1362"><circle class="g" cx="511" cy="5428" r="12"/><text x="511" y="5428">1362</text></g>
<g class="n" id="r17c1-1372"><circle class="p" cx="441" cy="5538" r="12"/><text x="441" y="5538">1372</text></g>
<g class="n" id="r17c2-495"><circle class="p" cx="1029" cy="5329" r="12"/><text x="1029" y="5329">495</text></g>
<g class="n" id="r17c2-1327"><circle class="g" cx="912" cy="5443" r="12"/><text x="912" y="5443">1327</text></g>
<g class="n" id="r17c2-2161"><circle class="p" cx="766" cy="5455" r="12"/><text x="766" y="5455">2161</text></g>
<g class="n" id="r17c2-1328"><circle class="p" cx="1033" cy="5538" r="12"/><text x="1033" y="5538">1328</text></g>
<g class="n" id="r17c3-663"><circle class="g" cx="1387" cy="5329" r="12"/><text x="1387" y="5329">663</text></g>
<g class="n" id="r17c3-594"><circle class="g" cx="1119" cy="5363" r="12"/><text x="1119" y="5363">594</text></g>
<g class="n" id="r17c3-2195"><circle class="p" cx="1288" cy="5538" r="12"/><text x="1288" y="5538">2195</text></g>
<g class="n" id="r17c4-594"><circle class="g" cx="1581" cy="5329" r="12"/><text x="1581" y="5329">594</text></g>
<g class="n" id="r17c4-2195"><circle class="p" cx="1741" cy="5511" r="12"/><text x="1741" y="5511">2195</text></g>
<g class="n" id="r17c4-663"><circle class="g" cx="1473" cy="5538" r="12"/><text x="1473" y="5538">663</text></g>
<g class="n" id="r18c0-2476"><circle class="p" cx="57" cy="5634" r="12"/><text x="57" y="5634">2476</text></g>
<g class="n" id="r18c0-1596"><circle class="g" cx="325" cy="5843" r="12"/><text x="325" y="5843">1596</text></g>
<g class="n" id="r18c1-1287"><circle class="p" cx="680" cy="5634" r="12"/><text x="680" y="5634">1287</text></g>
<g class="n" id="r18c1-1164"><circle class="g" cx="411" cy="5843" r="12"/><text x="411" y="5843">1164</text></g>
<g class="n" id="r18c2-110"><circle class="p" cx="766" cy="5634" r="12"/><text x="766" y="5634">110</text></g>
<g class="n" id="r18c2-1161"><circle class="g" cx="1033" cy="5843" r="12"/><text x="1033" y="5843">1161</text></g>
<g class="n" id="r18c3-2614"><circle class="p" cx="1119" cy="5634" r="12"/><text x="1119" y="5634">2614</text></g>
<g class="n" id="r18c3-494"><circle class="g" cx="1387" cy="5843" r="12"/><text x="1387" y="5843">494</text></g>
<g class="n" id="r18c4-1832"><circle class="g" cx="1473" cy="5634" r="12"/><text x="1473" y="5634">1832</text></g>
<g class="n" id="r18c4-889"><circle class="p" cx="1741" cy="5843" r="12"/><text x="1741" y="5843">889</text></g>
<g class="n" id="r19c0-1810"><circle class="p" cx="325" cy="5939" r="12"/><text x="325" y="5939">1810</text></g>
<g class="n" id="r19c0-1701"><circle class="p" cx="57" cy="5960" r="12"/><text x="57" y="5960">1701</text></g>
<g class="n" id="r19c0-1299"><circle class="g" cx="199" cy="6016" r="12"/><text x="199" y="6016">1299</text></g>
<g class="n" id="r19c0-598"><circle class="p" cx="212" cy="6148" r="12"/><text x="212" y="6148">598</text></g>
<g class="n" id="r19c1-633"><circle class="p" cx="411" cy="5939" r="12"/><text x="411" y="5939">633</text></g>
<g class="n" id="r19c1-0"><circle class="g" cx="528" cy="6036" r="12"/><text x="528" y="6036">0</text></g>
<g class="n" id="r19c1-1862"><circle class="p" cx="680" cy="6085" r="12"/><text x="680" y="6085">1862</text></g>
<g class="n" id="r19c1-2582"><circle class="p" cx="574" cy="6148" r="12"/><text x="574" y="6148">2582</text></g>
<g class="n" id="r19c2-1664"><circle class="p" cx="878" cy="5939" r="12"/><text x="878" y="5939">1664</text></g>
<g class="n" id="r19c2-455"><circle class="g" cx="1033" cy="6041" r="12"/><text x="1033" y="6041">455</text></g>
<g class="n" id="r19c2-2147"><circle class="p" cx="766" cy="6047" r="12"/><text x="766" y="6047">2147</text></g>
<g class="n" id="r19c2-2486"><circle class="p" cx="921" cy="6148" r="12"/><text x="921" y="6148">2486</text></g>
<g class="n" id="r19c3-571"><circle class="p" cx="1321" cy="5939" r="12"/><text x="1321" y="5939">571</text></g>
<g class="n" id="r19c3-1570"><circle class="p" cx="1387" cy="5997" r="12"/><text x="1387" y="5997">1570</text></g>
<g class="n" id="r19c3-88"><circle class="p" cx="1119" cy="6024" r="12"/><text x="1119" y="6024">88</text></g>
<g class="n" id="r19c3-696"><circle class="g" cx="1263" cy="6036" r="12"/><text x="1263" y="6036">696</text></g>
<g class="n" id="r19c3-277"><circle class="p" cx="1263" cy="6148" r="12"/><text x="1263" y="6148">277</text></g>
<g class="n" id="r19c4-1124"><circle class="p" cx="1544" cy="5939" r="12"/><text x="1544" y="5939">1124</text></g>
<g class="n" id="r19c4-669"><circle class="p" cx="1473" cy="5993" r="12"/><text x="1473" y="5993">669</text></g>
<g class="n" id="r19c4-2579"><circle class="p" cx="1741" cy="6032" r="12"/><text x="1741" y="6032">2579</text></g>
<g class="n" id="r19c4-1086"><circle class="g" cx="1596" cy="6036" r="12"/><text x="1596" y="6036">1086</text></g>
<g class="n" id="r19c4-2247"><circle class="p" cx="1589" cy="6148" r="12"/><text x="1589" y="6148">2247</text></g>
</g>
</svg>
